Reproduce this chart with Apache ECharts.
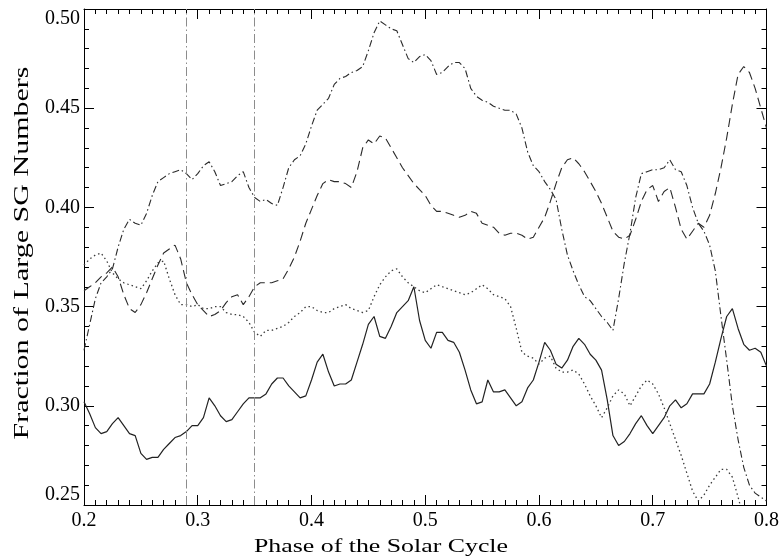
<!DOCTYPE html>
<html>
<head>
<meta charset="utf-8">
<script src="https://cdn.jsdelivr.net/npm/echarts@6/dist/echarts.min.js"></script>
<style>
  html, body { margin: 0; padding: 0; background: #fff; }
  #chart { width: 782px; height: 558px; }
</style>
</head>
<body>
<div id="chart"></div>
<script>
// phase of the cycle, sampled every 0.005
var phase = [
  0.200,0.205,0.210,0.215,0.220,0.225,0.230,0.235,0.240,0.245,
  0.250,0.255,0.260,0.265,0.270,0.275,0.280,0.285,0.290,0.295,
  0.300,0.305,0.310,0.315,0.320,0.325,0.330,0.335,0.340,0.345,
  0.350,0.355,0.360,0.365,0.370,0.375,0.380,0.385,0.390,0.395,
  0.400,0.405,0.410,0.415,0.420,0.425,0.430,0.435,0.440,0.445,
  0.450,0.455,0.460,0.465,0.470,0.475,0.480,0.485,0.490,0.495,
  0.500,0.505,0.510,0.515,0.520,0.525,0.530,0.535,0.540,0.545,
  0.550,0.555,0.560,0.565,0.570,0.575,0.580,0.585,0.590,0.595,
  0.600,0.605,0.610,0.615,0.620,0.625,0.630,0.635,0.640,0.645,
  0.650,0.655,0.660,0.665,0.670,0.675,0.680,0.685,0.690,0.695,
  0.700,0.705,0.710,0.715,0.720,0.725,0.730,0.735,0.740,0.745,
  0.750,0.755,0.760,0.765,0.770,0.775,0.780,0.785,0.790,0.795,
  0.800
];

// solid curve
var solid = [
  0.302,0.296,0.289,0.286,0.287,0.291,0.294,0.290,0.286,0.285,
  0.276,0.273,0.274,0.274,0.278,0.281,0.284,0.285,0.287,0.290,
  0.290,0.294,0.304,0.300,0.295,0.292,0.293,0.297,0.301,0.304,
  0.304,0.304,0.306,0.311,0.314,0.314,0.310,0.307,0.304,0.305,
  0.313,0.322,0.326,0.317,0.310,0.311,0.311,0.313,0.322,0.331,
  0.341,0.345,0.335,0.334,0.340,0.347,0.350,0.353,0.360,0.343,
  0.333,0.329,0.337,0.337,0.333,0.332,0.327,0.318,0.308,0.301,
  0.302,0.313,0.307,0.307,0.308,0.304,0.300,0.302,0.309,0.313,
  0.322,0.332,0.328,0.321,0.319,0.323,0.330,0.334,0.331,0.326,
  0.323,0.318,0.303,0.285,0.280,0.282,0.286,0.291,0.295,0.290,
  0.286,0.290,0.294,0.300,0.303,0.299,0.301,0.306,0.306,0.306,
  0.311,0.322,0.334,0.345,0.349,0.339,0.331,0.328,0.329,0.327,
  0.320
];

// dotted curve
var dotted = [
  0.371,0.374,0.376,0.377,0.373,0.367,0.364,0.362,0.361,0.360,
  0.359,0.363,0.368,0.372,0.373,0.364,0.356,0.351,0.351,0.350,
  0.351,0.349,0.349,0.350,0.350,0.347,0.346,0.346,0.345,0.342,
  0.337,0.335,0.338,0.338,0.339,0.340,0.342,0.345,0.347,0.350,
  0.350,0.348,0.347,0.347,0.349,0.350,0.351,0.349,0.348,0.347,
  0.348,0.355,0.361,0.365,0.368,0.369,0.365,0.362,0.360,0.358,
  0.357,0.359,0.361,0.360,0.359,0.358,0.357,0.356,0.357,0.359,
  0.361,0.359,0.356,0.355,0.354,0.350,0.339,0.327,0.325,0.324,
  0.321,0.324,0.325,0.319,0.317,0.317,0.318,0.316,0.311,0.305,
  0.300,0.294,0.299,0.305,0.308,0.306,0.300,0.305,0.310,0.313,
  0.311,0.306,0.299,0.291,0.283,0.275,0.266,0.257,0.252,0.255,
  0.260,0.264,0.268,0.268,0.264,0.254,0.243,0.237,0.234,0.234,
  0.235
];

// dashed curve
var dashed = [
  0.358,0.360,0.362,0.365,0.367,0.370,0.365,0.356,0.349,0.347,
  0.351,0.357,0.364,0.371,0.377,0.379,0.381,0.374,0.362,0.356,
  0.351,0.348,0.345,0.346,0.348,0.352,0.355,0.356,0.351,0.355,
  0.360,0.362,0.362,0.362,0.363,0.364,0.369,0.375,0.383,0.392,
  0.399,0.406,0.412,0.414,0.413,0.413,0.412,0.410,0.418,0.430,
  0.434,0.432,0.436,0.435,0.430,0.425,0.420,0.416,0.412,0.409,
  0.406,0.401,0.398,0.398,0.397,0.396,0.395,0.396,0.398,0.397,
  0.392,0.391,0.390,0.387,0.386,0.387,0.387,0.386,0.384,0.385,
  0.390,0.395,0.403,0.412,0.420,0.424,0.425,0.422,0.418,0.413,
  0.408,0.402,0.395,0.388,0.385,0.384,0.386,0.394,0.403,0.409,
  0.411,0.403,0.408,0.410,0.400,0.389,0.384,0.388,0.392,0.390,
  0.396,0.407,0.420,0.435,0.452,0.467,0.471,0.468,0.460,0.450,
  0.440
];

// dash-dot curve
var dashDot = [
  0.328,0.341,0.354,0.362,0.365,0.369,0.380,0.389,0.394,0.392,
  0.391,0.397,0.406,0.413,0.415,0.417,0.418,0.419,0.417,0.414,
  0.417,0.421,0.423,0.418,0.411,0.412,0.413,0.416,0.418,0.410,
  0.405,0.403,0.404,0.402,0.401,0.410,0.420,0.424,0.426,0.432,
  0.441,0.449,0.452,0.455,0.462,0.465,0.466,0.468,0.469,0.471,
  0.479,0.488,0.494,0.492,0.490,0.489,0.482,0.475,0.473,0.476,
  0.477,0.474,0.467,0.468,0.471,0.473,0.473,0.470,0.460,0.456,
  0.454,0.453,0.451,0.450,0.449,0.449,0.447,0.440,0.428,0.421,
  0.418,0.413,0.409,0.404,0.389,0.376,0.368,0.361,0.355,0.353,
  0.349,0.345,0.342,0.338,0.354,0.372,0.387,0.405,0.417,0.418,
  0.419,0.419,0.420,0.424,0.419,0.418,0.411,0.400,0.392,0.388,
  0.381,0.368,0.345,0.323,0.300,0.283,0.269,0.260,0.256,0.254,
  0.252
];

// vertical reference phases
var markPhases = [0.29, 0.35];

var xTitle = 'Phase of the Solar Cycle';
var yTitle = 'Fraction of Large SG Numbers';

var FONT = 'Liberation Serif';

function pairs(vals) {
  return phase.map(function (p, i) { return [p, vals[i]]; });
}

function boxAxis(extra) {
  var base = {
    type: 'value',
    axisLine: {show: true, onZero: false, lineStyle: {color: '#000', width: 1}},
    axisTick: {show: true, inside: true, length: 10, lineStyle: {color: '#000', width: 1}},
    splitLine: {show: false},
    minorSplitLine: {show: false}
  };
  return Object.assign(base, extra);
}

var xLabel = {
  fontFamily: FONT, fontSize: 20, color: '#000', margin: 6,
  formatter: function (v) { return v.toFixed(1); }
};
var yLabel = {
  fontFamily: FONT, fontSize: 20, color: '#000', margin: 4,
  verticalAlignMinLabel: 'bottom',
  verticalAlignMaxLabel: 'top',
  formatter: function (v) { return v.toFixed(2); }
};

var chart = echarts.init(document.getElementById('chart'), null, {renderer: 'canvas'});

var option = {
  animation: false,
  backgroundColor: '#fff',
  grid: {left: 84, right: 13, top: 9, bottom: 53, containLabel: false},
  xAxis: [
    boxAxis({position: 'bottom', min: 0.2, max: 0.8, interval: 0.1,
      minorTick: {show: true, splitNumber: 10, length: 5, lineStyle: {color: '#000'}},
      axisLabel: xLabel}),
    boxAxis({position: 'top', min: 0.2, max: 0.8, interval: 0.1,
      minorTick: {show: true, splitNumber: 10, length: 5, lineStyle: {color: '#000'}},
      axisLabel: {show: false}})
  ],
  yAxis: [
    boxAxis({position: 'left', min: 0.25, max: 0.5, interval: 0.05,
      minorTick: {show: true, splitNumber: 5, length: 5, lineStyle: {color: '#000'}},
      axisLabel: yLabel}),
    boxAxis({position: 'right', min: 0.25, max: 0.5, interval: 0.05,
      minorTick: {show: true, splitNumber: 5, length: 5, lineStyle: {color: '#000'}},
      axisLabel: {show: false}})
  ],
  series: [
    {
      name: 'solid', type: 'line', data: pairs(solid), symbol: 'none',
      lineStyle: {color: '#222', width: 1.2, type: 'solid'},
      markLine: {
        silent: true, symbol: ['none', 'none'], animation: false,
        label: {show: false},
        lineStyle: {color: '#8c8c8c', width: 1, type: [9, 3, 1.5, 3]},
        data: markPhases.map(function (p) { return {xAxis: p}; })
      }
    },
    {
      name: 'dotted', type: 'line', data: pairs(dotted), symbol: 'none',
      lineStyle: {color: '#3a3a3a', width: 1.3, type: [1.5, 3]}
    },
    {
      name: 'dashed', type: 'line', data: pairs(dashed), symbol: 'none',
      lineStyle: {color: '#2a2a2a', width: 1.1, type: [9, 5]}
    },
    {
      name: 'dashdot', type: 'line', data: pairs(dashDot), symbol: 'none',
      lineStyle: {color: '#2a2a2a', width: 1.1, type: [7, 3, 1.5, 3]}
    }
  ],
  graphic: [
    {
      type: 'text', x: 381, y: 547, scaleX: 1.36,
      style: {
        text: xTitle, fontFamily: FONT, fontSize: 19, fill: '#000',
        align: 'center', verticalAlign: 'middle',
        textAlign: 'center', textVerticalAlign: 'middle'
      }
    },
    {
      type: 'text', x: 22, y: 253, rotation: Math.PI / 2, scaleX: 1.43,
      style: {
        text: yTitle, fontFamily: FONT, fontSize: 21, fill: '#000',
        align: 'center', verticalAlign: 'middle',
        textAlign: 'center', textVerticalAlign: 'middle'
      }
    }
  ]
};

chart.setOption(option);
</script>
</body>
</html>
